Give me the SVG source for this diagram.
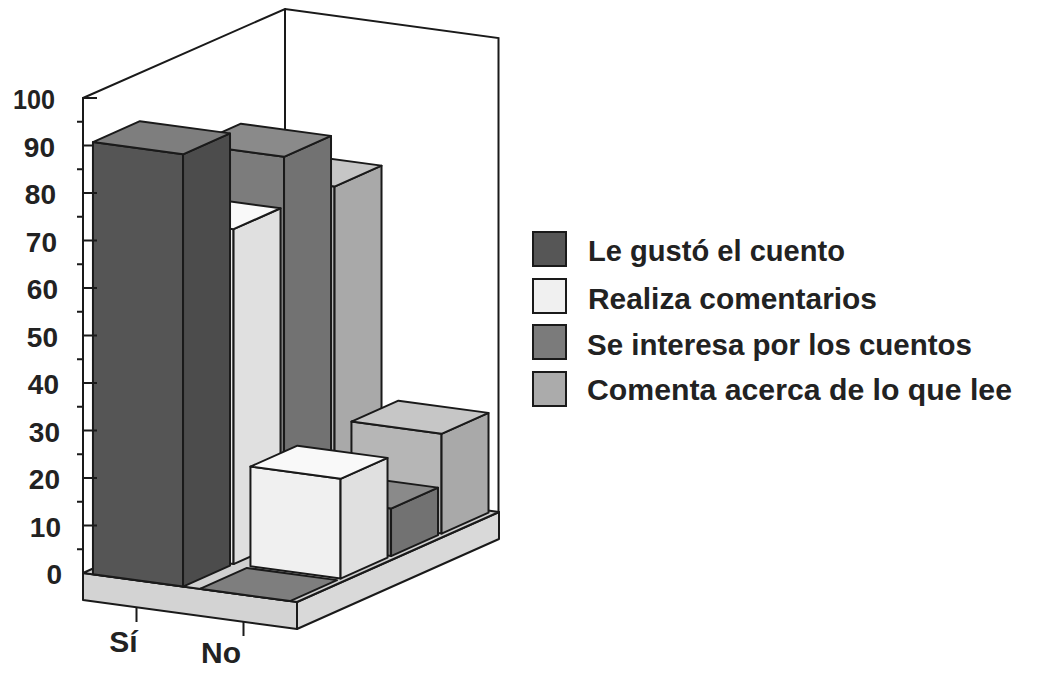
<svg xmlns="http://www.w3.org/2000/svg" width="1050" height="673" viewBox="0 0 1050 673">
<style>
.ln{stroke:#1a1a1a;stroke-width:2;fill:none;stroke-linecap:round}
.tk{stroke:#1a1a1a;stroke-width:2;fill:none}
.f{stroke:#1a1a1a;stroke-width:2;stroke-linejoin:round}
.a1{fill:#555555}.a2{fill:#4c4c4c}.a3{fill:#7e7e7e}
.b1{fill:#f0f0f0}.b2{fill:#e0e0e0}.b3{fill:#f9f9f9}
.c1{fill:#7c7c7c}.c2{fill:#727272}.c3{fill:#8a8a8a}
.d1{fill:#b6b6b6}.d2{fill:#a9a9a9}.d3{fill:#c6c6c6}
.slab{fill:#d3d3d3}.slabs{fill:#d9d9d9}.floor{fill:#d0d0d0}
.num{font-family:"Liberation Sans",Arial,sans-serif;font-weight:bold;font-size:28px;fill:#222;text-anchor:end}
.cat{font-family:"Liberation Sans",Arial,sans-serif;font-weight:bold;font-size:30px;fill:#222;text-anchor:middle}
.leg{font-family:"Liberation Sans",Arial,sans-serif;font-weight:bold;font-size:29px;fill:#222}
.sw{stroke:#1a1a1a;stroke-width:2}
</style>
<rect width="1050" height="673" fill="#ffffff"/>

<g id="walls">
<path class="ln" d="M83,98 L285,9 L498.5,38 L498.5,512 M285,9 L285,483"/>
</g>

<g id="floor">
<polygon class="f slab" points="83,573 297,602 297,629 83,600"/>
<polygon class="f slabs" points="297,602 499,512 499,539 297,629"/>
<polygon class="f floor" points="83,573 297,602 499,512 285,483"/>
</g>

<g id="connectors">
<g id="bar-si-comenta">
<polygon class="f d1" points="244.45,506.85 334.55,519.06 334.55,186.56 244.45,174.35"/>
<polygon class="f d2" points="334.55,519.06 381.52,498.13 381.52,165.63 334.55,186.56"/>
<polygon class="f d3" points="244.45,174.35 334.55,186.56 381.52,165.63 291.42,153.42"/>
</g>
<g id="bar-no-comenta">
<polygon class="f d1" points="351.45,521.35 441.55,533.56 441.55,433.81 351.45,421.6"/>
<polygon class="f d2" points="441.55,533.56 488.52,512.63 488.52,412.88 441.55,433.81"/>
<polygon class="f d3" points="351.45,421.6 441.55,433.81 488.52,412.88 398.42,400.67"/>
</g>
<g id="bar-si-interesa">
<polygon class="f c1" points="193.95,529.35 284.05,541.56 284.05,156.81 193.95,144.6"/>
<polygon class="f c2" points="284.05,541.56 331.02,520.63 331.02,135.88 284.05,156.81"/>
<polygon class="f c3" points="193.95,144.6 284.05,156.81 331.02,135.88 240.92,123.67"/>
</g>
<g id="bar-no-interesa">
<polygon class="f c1" points="300.95,543.85 391.05,556.06 391.05,508.56 300.95,496.35"/>
<polygon class="f c2" points="391.05,556.06 438.02,535.13 438.02,487.63 391.05,508.56"/>
<polygon class="f c3" points="300.95,496.35 391.05,508.56 438.02,487.63 347.92,475.42"/>
</g>
<g id="bar-si-realiza">
<polygon class="f b1" points="143.45,551.85 233.55,564.06 233.55,229.19 143.45,216.98"/>
<polygon class="f b2" points="233.55,564.06 280.52,543.13 280.52,208.26 233.55,229.19"/>
<polygon class="f b3" points="143.45,216.98 233.55,229.19 280.52,208.26 190.42,196.05"/>
</g>
<g id="bar-no-realiza">
<polygon class="f b1" points="250.45,566.35 340.55,578.56 340.55,478.81 250.45,466.6"/>
<polygon class="f b2" points="340.55,578.56 387.52,557.63 387.52,457.88 340.55,478.81"/>
<polygon class="f b3" points="250.45,466.6 340.55,478.81 387.52,457.88 297.42,445.67"/>
</g>
<g id="bar-si-gusto">
<polygon class="f a1" points="92.95,574.35 183.05,586.56 183.05,154.31 92.95,142.1"/>
<polygon class="f a2" points="183.05,586.56 230.02,565.63 230.02,133.38 183.05,154.31"/>
<polygon class="f a3" points="92.95,142.1 183.05,154.31 230.02,133.38 139.92,121.17"/>
</g>
<g id="bar-no-gusto">
<polygon class="f a3" points="199.95,588.85 290.05,601.06 337.02,580.13 246.92,567.92"/>
</g>
</g>

<g id="axis">
<line class="ln" x1="83" y1="98" x2="83" y2="573"/>
<path class="tk" d="M83,98H97 M83,145.5H93 M83,193H97 M83,240.5H97 M83,288H97 M83,335.5H97 M83,383H97 M83,430.5H97 M83,478H97 M83,525.5H97
M77,121.75H83 M77,169.25H83 M77,216.75H83 M77,264.25H83 M77,311.75H83 M77,359.25H83 M77,406.75H83 M77,454.25H83 M77,501.75H83 M77,549.25H83"/>
<text class="num" x="55" y="109" textLength="42" lengthAdjust="spacingAndGlyphs">100</text>
<text class="num" x="55" y="156.5">90</text>
<text class="num" x="56" y="204">80</text>
<text class="num" x="57" y="251.5">70</text>
<text class="num" x="58" y="299">60</text>
<text class="num" x="58" y="346.5">50</text>
<text class="num" x="59" y="394">40</text>
<text class="num" x="60" y="441.5">30</text>
<text class="num" x="60" y="489">20</text>
<text class="num" x="61" y="536.5">10</text>
<text class="num" x="62" y="584">0</text>
<path class="tk" d="M136.5,607 V622 M243.5,621.5 V636"/>
<text class="cat" x="123.5" y="652">Sí</text>
<text class="cat" x="221" y="663">No</text>
</g>

<g id="legend">
<g id="leg-gusto"><rect class="sw" x="533" y="232" width="33" height="34" fill="#565656"/><text class="leg" x="588" y="261" textLength="257" lengthAdjust="spacingAndGlyphs">Le gustó el cuento</text></g>
<g id="leg-realiza"><rect class="sw" x="533" y="279" width="33" height="34" fill="#f0f0f0"/><text class="leg" x="588" y="309" textLength="289" lengthAdjust="spacingAndGlyphs">Realiza comentarios</text></g>
<g id="leg-interesa"><rect class="sw" x="533" y="325" width="33" height="34" fill="#7b7b7b"/><text class="leg" x="587" y="355" textLength="385" lengthAdjust="spacingAndGlyphs">Se interesa por los cuentos</text></g>
<g id="leg-comenta"><rect class="sw" x="533" y="372" width="33" height="34" fill="#ababab"/><text class="leg" x="587" y="400" textLength="425" lengthAdjust="spacingAndGlyphs">Comenta acerca de lo que lee</text></g>
</g>
</svg>
